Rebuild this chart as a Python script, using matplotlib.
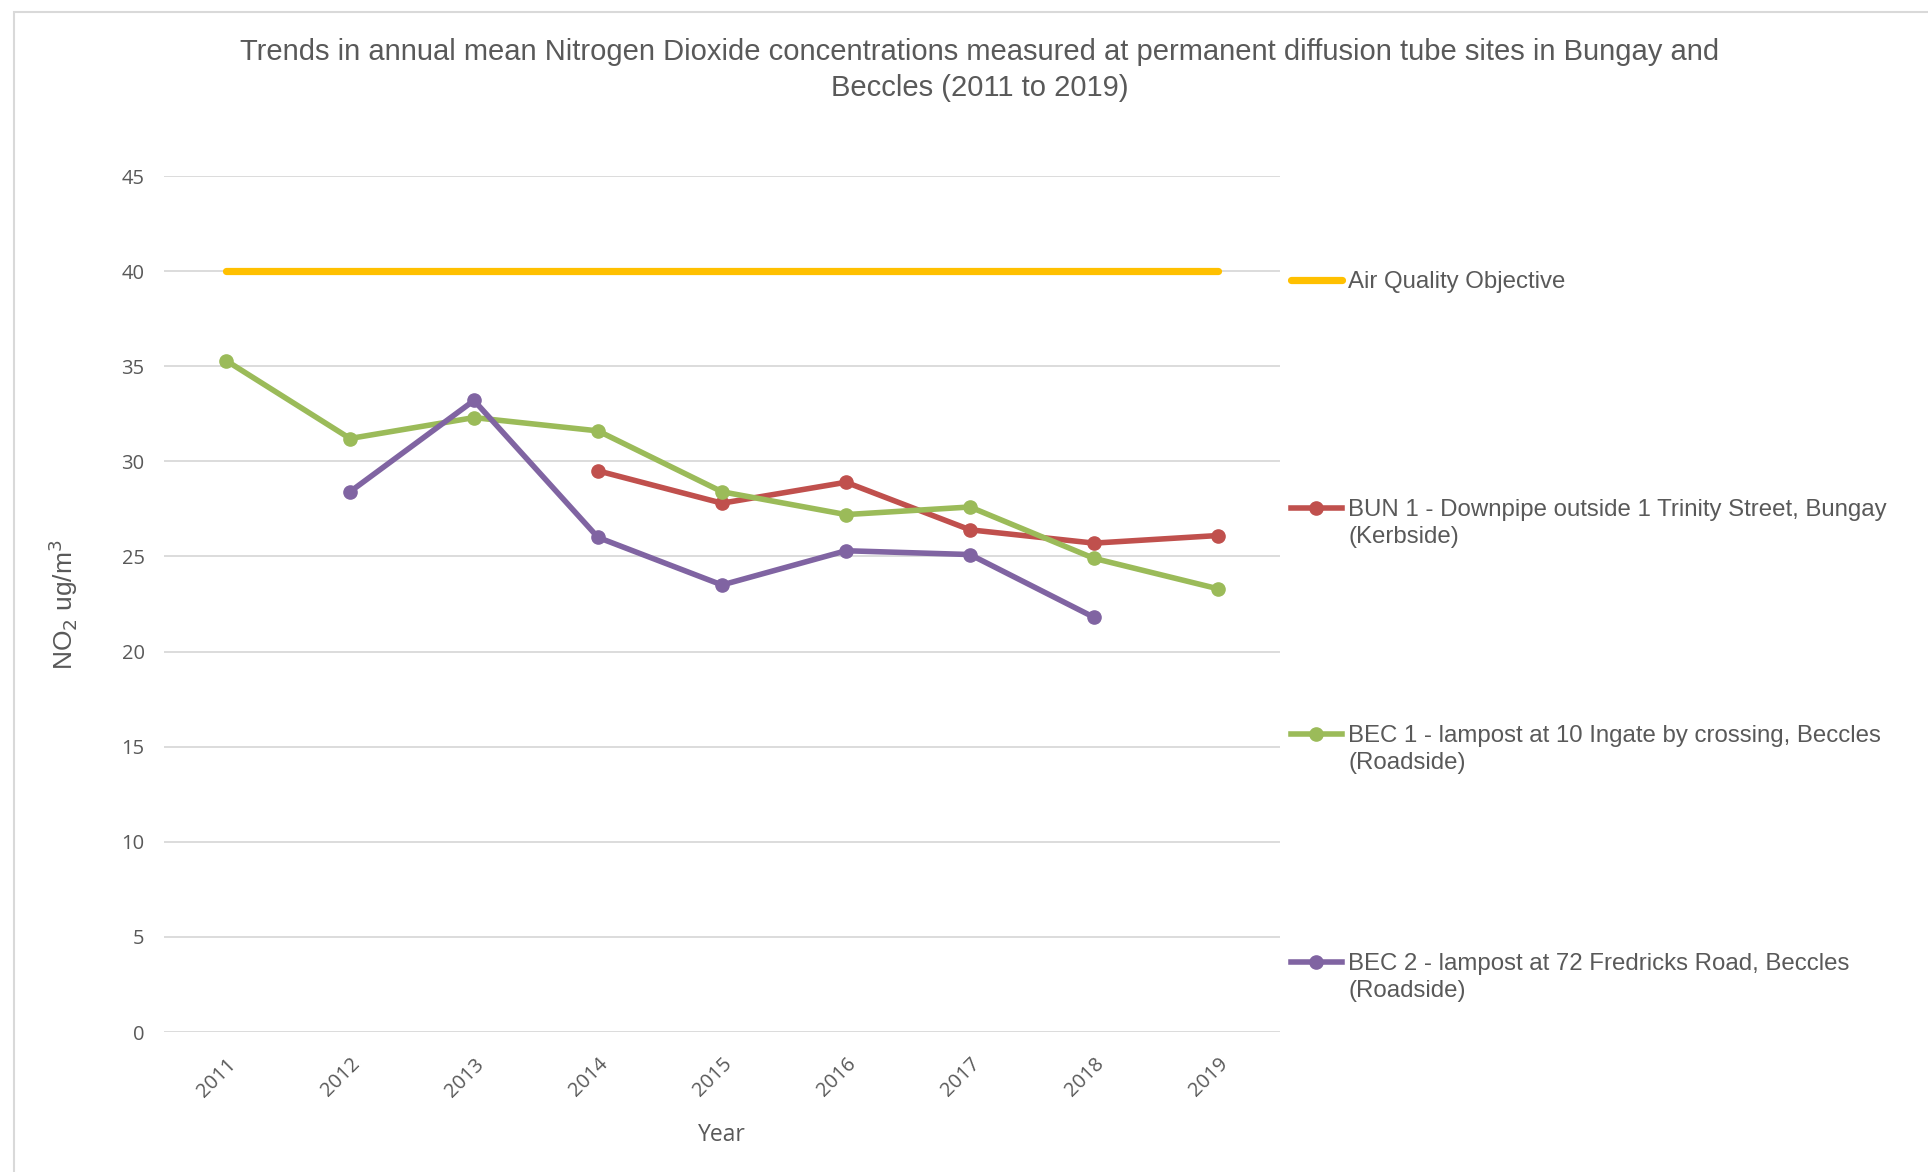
import matplotlib.pyplot as plt
from matplotlib.lines import Line2D
from matplotlib.patches import Rectangle

years = ["2011", "2012", "2013", "2014", "2015", "2016", "2017", "2018", "2019"]
objective = [40, 40, 40, 40, 40, 40, 40, 40, 40]
bun1 = [None, None, None, 29.5, 27.8, 28.9, 26.4, 25.7, 26.1]
bec1 = [35.3, 31.2, 32.3, 31.6, 28.4, 27.2, 27.6, 24.9, 23.3]
bec2 = [None, 28.4, 33.2, 26.0, 23.5, 25.3, 25.1, 21.8, None]

labels = ["Air Quality Objective",
          "BUN 1 - Downpipe outside 1 Trinity Street, Bungay\n(Kerbside)",
          "BEC 1 - lampost at 10 Ingate by crossing, Beccles\n(Roadside)",
          "BEC 2 - lampost at 72 Fredricks Road, Beccles\n(Roadside)"]
colors = ["#FFC000", "#C0504D", "#9BBB59", "#8064A2"]
txt = "#595959"
narrow = ["Liberation Sans Narrow", "Liberation Sans"]

W, H = 1928, 1172
fig = plt.figure(figsize=(W / 100, H / 100), dpi=100)
fig.patches.append(Rectangle((14 / W, -0.1), 2, 1 - 12 / H + 0.1, transform=fig.transFigure,
                             fill=False, edgecolor="#D9D9D9", linewidth=1.5))

ax = fig.add_axes([164 / W, 1 - 1032 / H, (1280 - 164) / W, (1032 - 176) / H])

x = list(range(len(years)))


def clean(vals):
    return [float("nan") if v is None else v for v in vals]


ax.plot(x, objective, color=colors[0], linewidth=5.2, solid_capstyle="round", zorder=3)
for vals, c in zip([bun1, bec1, bec2], colors[1:]):
    ax.plot(x, clean(vals), color=c, linewidth=4, marker="o", markersize=9.5, zorder=4)

ax.set_xlim(-0.5, len(years) - 0.5)
ax.set_ylim(0, 45)
ax.set_yticks(range(0, 50, 5))
ax.set_xticks(x)
ax.set_xticklabels(years, rotation=45, ha="right", rotation_mode="anchor",
                   fontsize=14.5, color=txt, family="Open Sans")
for lab in ax.get_yticklabels():
    lab.set_fontsize(14.5)
    lab.set_color(txt)
    lab.set_family("Open Sans")
ax.tick_params(length=0, pad=14)
ax.tick_params(axis="x", pad=16)
ax.grid(axis="y", color="#D9D9D9", linewidth=1.3)
ax.set_axisbelow(True)
for s in ax.spines.values():
    s.set_visible(False)

ax.set_xlabel("Year", fontsize=16.5, color=txt, family="Open Sans", labelpad=16)
fig.text(63 / W, 1 - 605 / H, "NO$_2$ ug/m$^3$", rotation=90, ha="center", va="center",
         fontsize=19, color=txt, family=narrow)

fig.text(980 / W, 1 - 70 / H,
         "Trends in annual mean Nitrogen Dioxide concentrations measured at permanent diffusion tube sites in Bungay and\nBeccles (2011 to 2019)",
         ha="center", va="center", fontsize=21, color=txt, family="Liberation Sans", linespacing=1.35)

# legend
leg_y = [280, 508, 734, 962]
for i, (lab, c, yy) in enumerate(zip(labels, colors, leg_y)):
    yf = 1 - yy / H
    if i == 0:
        fig.add_artist(Line2D([1291 / W, 1342 / W], [yf, yf], color=c, linewidth=5.2,
                              solid_capstyle="round", transform=fig.transFigure))
    else:
        fig.add_artist(Line2D([1291 / W, 1342 / W], [yf, yf], color=c, linewidth=4,
                              transform=fig.transFigure))
        fig.add_artist(Line2D([1316 / W], [yf], color=c, marker="o", markersize=9.5,
                              transform=fig.transFigure))
    fig.text(1348 / W, yf + 9 / H, lab, ha="left", va="top", fontsize=17.3, color=txt,
             family="Liberation Sans", linespacing=1.28)

fig.savefig("out.png", dpi=100, facecolor="white")
